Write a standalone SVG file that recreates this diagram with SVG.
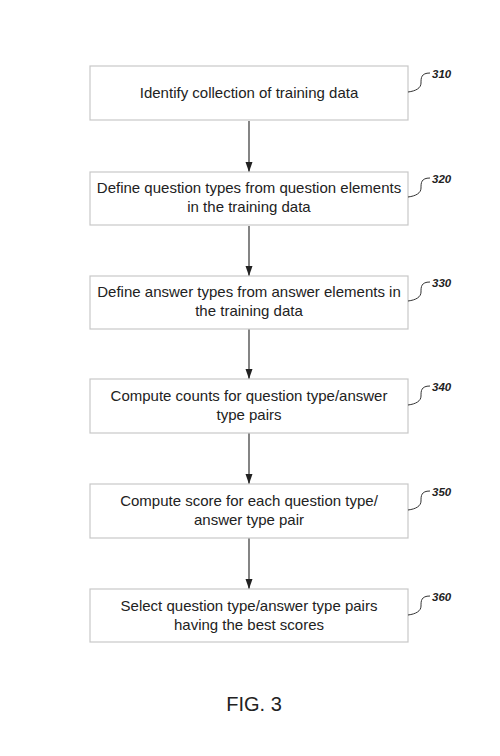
<svg xmlns="http://www.w3.org/2000/svg" width="500" height="756" viewBox="0 0 500 756">
<defs>
<style>
.box{fill:#fff;stroke:#c8c8c8;stroke-width:1.2}
.t{font-family:"Liberation Sans",Arial,sans-serif;font-size:15px;fill:#222;text-anchor:middle}
.lbl{font-family:"Liberation Sans",Arial,sans-serif;font-size:11.5px;font-weight:bold;font-style:italic;fill:#222}
.sq{fill:none;stroke:#333;stroke-width:1}
.c{stroke:#333;stroke-width:1.2;fill:none}
</style>
<marker id="ah" markerWidth="10" markerHeight="8" refX="10" refY="3.5" orient="auto" markerUnits="userSpaceOnUse">
<path d="M0,0 L10,3.5 L0,7 Z" fill="#222"/>
</marker>
</defs>
<rect width="500" height="756" fill="#fff"/>
<g id="connectors">
<line class="c" x1="249" y1="121" x2="249" y2="172" marker-end="url(#ah)"/>
<line class="c" x1="249" y1="226" x2="249" y2="276" marker-end="url(#ah)"/>
<line class="c" x1="249" y1="329" x2="249" y2="379" marker-end="url(#ah)"/>
<line class="c" x1="249" y1="433" x2="249" y2="484" marker-end="url(#ah)"/>
<line class="c" x1="249" y1="538" x2="249" y2="589" marker-end="url(#ah)"/>
</g>
<g id="n310">
<rect class="box" x="90" y="66" width="318" height="54"/>
<text class="t" x="249" y="98">Identify collection of training data</text>
<path class="sq" d="M408,92 C416,91 421,88 421,83 C421,78 421,73 430,73"/>
<text class="lbl" x="432" y="78">310</text>
</g>
<g id="n320">
<rect class="box" x="90" y="172" width="318" height="53"/>
<text class="t" x="249" y="193">Define question types from question elements</text>
<text class="t" x="249" y="212">in the training data</text>
<path class="sq" d="M408,197 C416,196 421,193 421,188 C421,183 421,178 430,178"/>
<text class="lbl" x="432" y="183">320</text>
</g>
<g id="n330">
<rect class="box" x="90" y="276" width="318" height="53"/>
<text class="t" x="249" y="297">Define answer types from answer elements in</text>
<text class="t" x="249" y="316">the training data</text>
<path class="sq" d="M408,301 C416,300 421,297 421,292 C421,287 421,282 430,282"/>
<text class="lbl" x="432" y="287">330</text>
</g>
<g id="n340">
<rect class="box" x="90" y="379" width="318" height="54"/>
<text class="t" x="249" y="401">Compute counts for question type/answer</text>
<text class="t" x="249" y="420">type pairs</text>
<path class="sq" d="M408,405 C416,404 421,401 421,396 C421,391 421,386 430,386"/>
<text class="lbl" x="432" y="391">340</text>
</g>
<g id="n350">
<rect class="box" x="90" y="484" width="318" height="54"/>
<text class="t" x="249" y="506">Compute score for each question type/</text>
<text class="t" x="249" y="525">answer type pair</text>
<path class="sq" d="M408,510 C416,509 421,506 421,501 C421,496 421,491 430,491"/>
<text class="lbl" x="432" y="496">350</text>
</g>
<g id="n360">
<rect class="box" x="90" y="589" width="318" height="53"/>
<text class="t" x="249" y="611">Select question type/answer type pairs</text>
<text class="t" x="249" y="630">having the best scores</text>
<path class="sq" d="M408,615 C416,614 421,611 421,606 C421,601 421,596 430,596"/>
<text class="lbl" x="432" y="601">360</text>
</g>
<text x="254" y="711" font-family="'Liberation Sans',Arial,sans-serif" font-size="20" fill="#222" text-anchor="middle">FIG. 3</text>
</svg>
